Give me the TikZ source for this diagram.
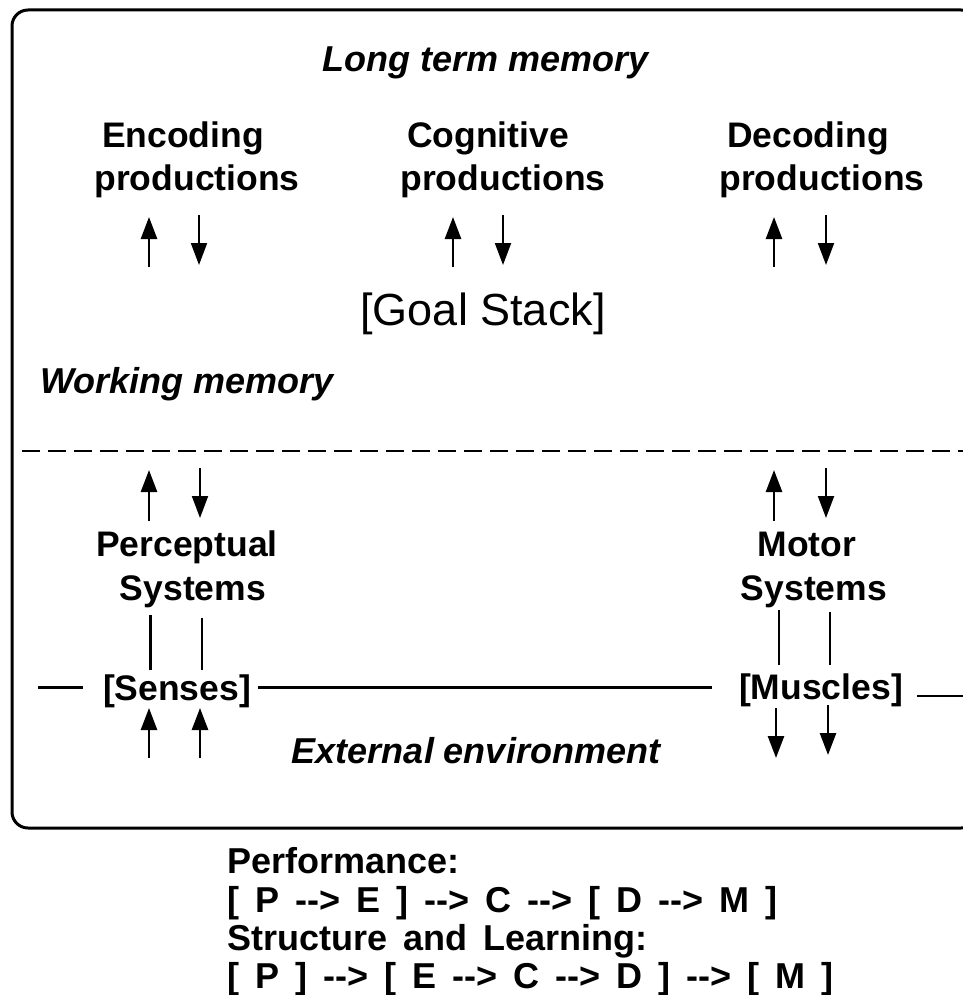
\documentclass[tikz,border=0pt]{standalone}
\usepackage{fontspec}
\setmainfont{Liberation Sans}
\usetikzlibrary{arrows.meta}
\newcommand\wideSp{\spaceskip 16pt\relax}
\begin{document}
\begin{tikzpicture}[x=1pt,y=-1pt,
  lbl/.style={font=\fontsize{35.5}{40}\selectfont\bfseries, inner sep=0pt, anchor=base},
  itl/.style={font=\fontsize{36}{40}\selectfont\bfseries\itshape, inner sep=0pt, anchor=base},
  goalfont/.style={font=\fontsize{45}{50}\selectfont, inner sep=0pt, anchor=base},
  formula/.style={font=\fontsize{36}{40}\selectfont\bfseries\wideSp, inner sep=0pt, anchor=base west},
  uparr/.style={line width=2.6pt, -{Triangle[width=16pt,length=22pt]}},
  dnarr/.style={line width=2pt, -{Triangle[width=16pt,length=22pt]}},
  frame/.style={line width=3pt, rounded corners=16pt},
  sepline/.style={line width=2.5pt, dash pattern=on 18pt off 8pt},
  envline/.style={line width=3pt},
  thinlink/.style={line width=2pt},
  thicklink/.style={line width=3pt}
]
\useasboundingbox (0,0) rectangle (962,995);
\fill[white] (0,0) rectangle (962,995);

% frame
\draw[frame] (12,10) rectangle (977,828);

% texts
\node[itl] (ltm) at (486,72) {Long term memory};
\node[lbl] (enc1) at (183,148) {Encoding};
\node[lbl] (enc2) at (197,190) {productions};
\node[lbl] (cog1) at (488,148) {Cognitive};
\node[lbl] (cog2) at (503,190) {productions};
\node[lbl] (dec1) at (808,148) {Decoding};
\node[lbl] (dec2) at (822,190) {productions};
\node[goalfont] (goal) at (483,325) {[Goal Stack]};
\node[itl,anchor=base west] (wm) at (40,393) {Working memory};
\node[lbl] (per1) at (187,556) {Perceptual};
\node[lbl] (per2) at (193,600) {Systems};
\node[lbl] (mot1) at (807,556) {Motor};
\node[lbl] (mot2) at (814,600) {Systems};
\node[lbl] (senses) at (177,700) {[Senses]};
\node[lbl] (muscles) at (821,699) {[Muscles]};
\node[itl] (ext) at (476,763) {External environment};

\node[formula] (perf) at (227,873) {Performance:};
\node[formula] (perfseq) at (227,912) {[ P -{}-> E ] -{}-> C -{}-> [ D -{}-> M ]};
\node[formula] (struct) at (227,950) {Structure and Learning:};
\node[formula] (structseq) at (227,988) {[ P ] -{}-> [ E -{}-> C -{}-> D ] -{}-> [ M ]};

% separator between working memory and environment
\coordinate (sepL) at (22,451);
\coordinate (sepR) at (975,451);
\draw[sepline] (sepL) -- (sepR);

% arrows: productions <-> working memory
\coordinate (encUa) at (149,267); \coordinate (encUb) at (149,217);
\coordinate (encDa) at (199,215); \coordinate (encDb) at (199,265);
\coordinate (cogUa) at (453,267); \coordinate (cogUb) at (453,217);
\coordinate (cogDa) at (503,215); \coordinate (cogDb) at (503,265);
\coordinate (decUa) at (774,267); \coordinate (decUb) at (774,217);
\coordinate (decDa) at (826,215); \coordinate (decDb) at (826,265);
\draw[uparr] (encUa) -- (encUb);
\draw[dnarr] (encDa) -- (encDb);
\draw[uparr] (cogUa) -- (cogUb);
\draw[dnarr] (cogDa) -- (cogDb);
\draw[uparr] (decUa) -- (decUb);
\draw[dnarr] (decDa) -- (decDb);

% arrows: systems <-> working memory
\coordinate (perUa) at (149,521); \coordinate (perUb) at (149,470);
\coordinate (perDa) at (200,468); \coordinate (perDb) at (200,518);
\coordinate (motUa) at (774,521); \coordinate (motUb) at (774,470);
\coordinate (motDa) at (826,468); \coordinate (motDb) at (826,518);
\draw[uparr] (perUa) -- (perUb);
\draw[dnarr] (perDa) -- (perDb);
\draw[uparr] (motUa) -- (motUb);
\draw[dnarr] (motDa) -- (motDb);

% links systems -- senses / muscles
\coordinate (pl1a) at (150,615); \coordinate (pl1b) at (150,670);
\coordinate (pl2a) at (202,618); \coordinate (pl2b) at (202,670);
\coordinate (ml1a) at (779,610); \coordinate (ml1b) at (779,665);
\coordinate (ml2a) at (830,612); \coordinate (ml2b) at (830,665);
\draw[thicklink] (pl1a) -- (pl1b);
\draw[thinlink] (pl2a) -- (pl2b);
\draw[thinlink] (ml1a) -- (ml1b);
\draw[thinlink] (ml2a) -- (ml2b);

% environment boundary line
\coordinate (envA) at (38,687); \coordinate (envB) at (83,687);
\coordinate (envC) at (258,687); \coordinate (envD) at (712,687);
\coordinate (envE) at (917,696); \coordinate (envF) at (965,696);
\draw[envline] (envA) -- (envB);
\draw[envline] (envC) -- (envD);
\draw[thinlink] (envE) -- (envF);

% arrows senses / muscles <-> environment
\coordinate (sU1a) at (149,758); \coordinate (sU1b) at (149,708);
\coordinate (sU2a) at (200,758); \coordinate (sU2b) at (200,708);
\coordinate (mD1a) at (776,708); \coordinate (mD1b) at (776,758);
\coordinate (mD2a) at (828,705); \coordinate (mD2b) at (828,755);
\draw[uparr] (sU1a) -- (sU1b);
\draw[uparr] (sU2a) -- (sU2b);
\draw[uparr] (mD1a) -- (mD1b);
\draw[uparr] (mD2a) -- (mD2b);
\end{tikzpicture}
\end{document}
